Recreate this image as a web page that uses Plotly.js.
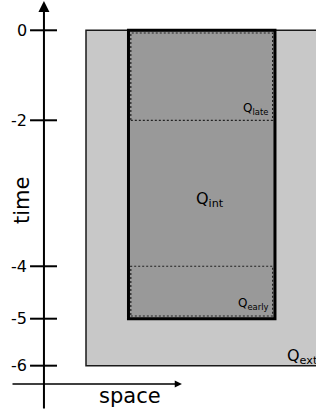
<!DOCTYPE html>
<html>
<head>
<meta charset="utf-8">
<script src="https://cdn.plot.ly/plotly-3.0.1.min.js"></script>
<style>html,body{margin:0;padding:0;background:#fff;}#chart{width:316px;height:415px;}</style>
</head>
<body>
<div id="chart"></div>
<script>
// ---- data (schematic units) ----
const timeTickLabels = ['0', '-2', '-4', '-5', '-6'];
const timeTickPos    = [0, -2, -5.244, -6.409, -7.453];
// regions: [space0, space1, timeTop, timeBottom]
const regionNames  = ['ext', 'int', 'late', 'early'];
const regionSpace0 = [-0.29, 0, 0, 0];
const regionSpace1 = [1.6, 1, 1, 1];
const regionTop    = [0, 0, 0, -5.244];
const regionBottom = [-7.453, -6.409, -2, -6.409];
const regionLabels = ['Q<sub>ext</sub>', 'Q<sub>int</sub>', 'Q<sub>late</sub>', 'Q<sub>early</sub>'];
const axisLabels = {x: 'space', y: 'time'};

// ---- layout helpers ----
const FONT = 'DejaVu Sans, sans-serif';
const xr = [-0.877, 1.280];
const yr = [-8.549, 0.673];
const axisX = -0.577;       // y-axis line position (space units)
const axisY = -7.86;        // x-axis line position (time units)
const insetX = 0.016, insetY = 0.06;

const shapes = [];
// outer (exterior) region
shapes.push({type:'rect', xref:'x', yref:'y', x0:regionSpace0[0], x1:regionSpace1[0], y0:regionBottom[0], y1:regionTop[0],
  fillcolor:'#c8c8c8', line:{color:'#1a1a1a', width:1.5}});
// interior region
shapes.push({type:'rect', xref:'x', yref:'y', x0:regionSpace0[1], x1:regionSpace1[1], y0:regionBottom[1], y1:regionTop[1],
  fillcolor:'#999999', line:{color:'#000', width:3}});
// late & early dotted sub-regions
for (const i of [2, 3]) {
  const top = regionTop[i] === 0 ? regionTop[i] - insetY : regionTop[i];
  const bot = regionBottom[i] === regionBottom[1] ? regionBottom[i] + insetY : regionBottom[i];
  shapes.push({type:'rect', xref:'x', yref:'y', x0:regionSpace0[i] + insetX, x1:regionSpace1[i] - insetX, y0:bot, y1:top,
    fillcolor:'rgba(0,0,0,0)', line:{color:'#222222', width:1.2, dash:'2px,2px'}});
}
// tick marks on the time axis
for (const p of timeTickPos) {
  shapes.push({type:'line', xref:'x', yref:'y', x0:-0.672, x1:-0.488, y0:p, y1:p, line:{color:'#000', width:2}});
}

const annotations = [];
// axis arrows
annotations.push({x:axisX, y:0.651, ax:axisX, ay:-8.438, xref:'x', yref:'y', axref:'x', ayref:'y', text:'',
  showarrow:true, arrowhead:2, arrowsize:1.1, arrowwidth:2, arrowcolor:'#000', standoff:0, startstandoff:0});
annotations.push({x:0.365, y:axisY, ax:-0.802, ay:axisY, xref:'x', yref:'y', axref:'x', ayref:'y', text:'',
  showarrow:true, arrowhead:2, arrowsize:0.9, arrowwidth:1.6, arrowcolor:'#000', standoff:0, startstandoff:0});
// tick labels
timeTickLabels.forEach((t, i) => {
  annotations.push({x:-0.679, y:timeTickPos[i], xref:'x', yref:'y', text:t, showarrow:false,
    xanchor:'right', yanchor:'middle', font:{family:FONT, size:16, color:'#000'}});
});
// axis titles
annotations.push({x:0.010, y:-8.127, xref:'x', yref:'y', text:axisLabels.x, showarrow:false,
  xanchor:'center', yanchor:'middle', font:{family:FONT, size:21, color:'#000'}});
annotations.push({x:-0.727, y:-3.771, xref:'x', yref:'y', text:axisLabels.y, showarrow:false, textangle:-90,
  xanchor:'center', yanchor:'middle', font:{family:FONT, size:21, color:'#000'}});
// region labels
annotations.push({x:1.068, y:-7.238, xref:'x', yref:'y', text:regionLabels[0], showarrow:false,
  xanchor:'left', yanchor:'middle', font:{family:FONT, size:16, color:'#000'}});
annotations.push({x:0.556, y:-3.771, xref:'x', yref:'y', text:regionLabels[1], showarrow:false,
  xanchor:'center', yanchor:'middle', font:{family:FONT, size:16, color:'#000'}});
annotations.push({x:0.966, y:-1.749, xref:'x', yref:'y', text:regionLabels[2], showarrow:false,
  xanchor:'right', yanchor:'middle', font:{family:FONT, size:12, color:'#000'}});
annotations.push({x:0.973, y:-6.082, xref:'x', yref:'y', text:regionLabels[3], showarrow:false,
  xanchor:'right', yanchor:'middle', font:{family:FONT, size:12, color:'#000'}});

const layout = {
  width:316, height:415,
  margin:{l:0, r:0, t:0, b:0, pad:0},
  paper_bgcolor:'#fff', plot_bgcolor:'#fff',
  showlegend:false,
  xaxis:{range:xr, visible:false, fixedrange:true},
  yaxis:{range:yr, visible:false, fixedrange:true},
  shapes:shapes,
  annotations:annotations
};
Plotly.newPlot('chart', [{type:'scatter', x:[], y:[], hoverinfo:'skip'}], layout, {staticPlot:true, displayModeBar:false});
</script>
</body>
</html>
